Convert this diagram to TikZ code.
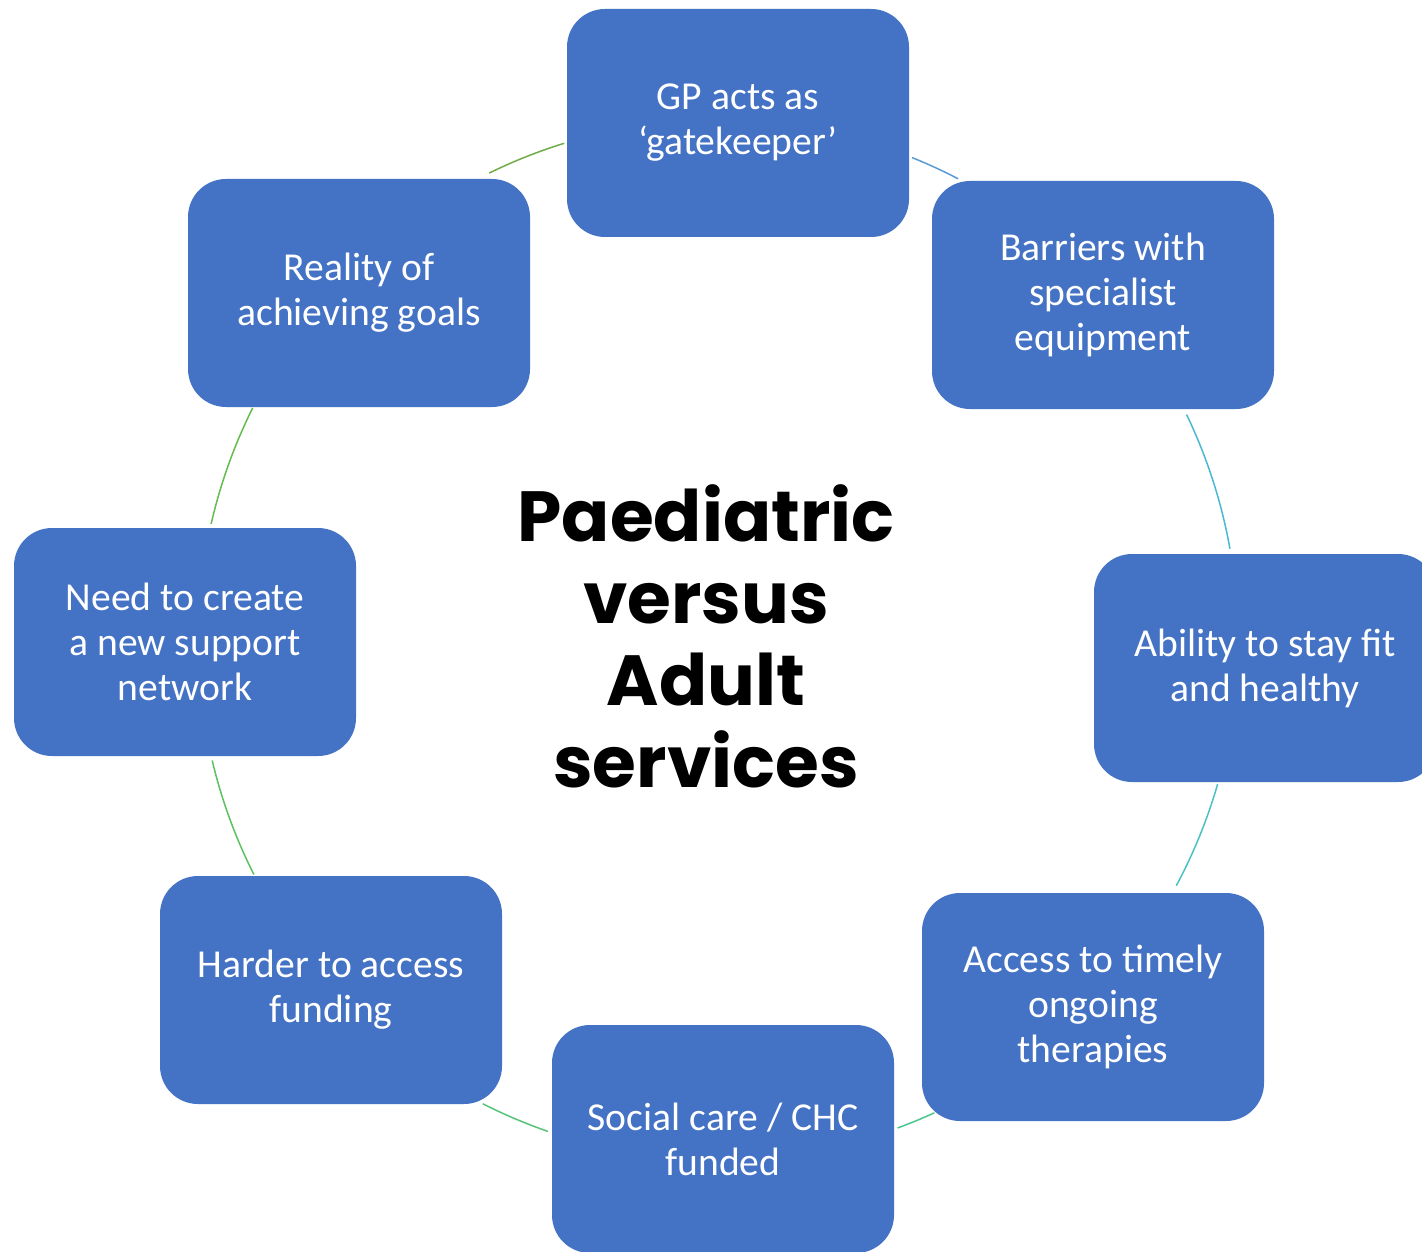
\documentclass[tikz,border=0pt]{standalone}
\usepackage{fontspec}
\setmainfont{Carlito}
\newfontfamily\titlefont{Poppins}
\usepackage{tikz}

\definecolor{boxblue}{HTML}{4472C4}
\definecolor{arcone}{HTML}{5B9BD5}
\definecolor{arctwo}{HTML}{4BB8D2}
\definecolor{arcthree}{HTML}{4CC1C4}
\definecolor{arcfour}{HTML}{4CC690}
\definecolor{arcfive}{HTML}{55C47A}
\definecolor{arcsix}{HTML}{5CC160}
\definecolor{arcseven}{HTML}{64BB4E}
\definecolor{arceight}{HTML}{70AD47}

\tikzset{
  issue/.style={rectangle, rounded corners=19pt, fill=boxblue, text=white,
    minimum width=171pt, minimum height=114pt, align=center,
    font=\fontsize{19.8}{22.5}\selectfont},
  ring/.style={line width=0.75pt}
}

\begin{document}
\begin{tikzpicture}[x=0.5pt,y=0.5pt]
        \useasboundingbox[fill=white] (0,0) rectangle (1422,-1251);
        \coordinate (hub) at (718,-640);

        % ring segments between the boxes
        \begin{scope}[shift={(hub)}]
        \draw[ring, arceight] (107.2:520) arc[start angle=107.2, end angle=116.1, radius=520];
        \draw[ring, arcone] (62.5:520) arc[start angle=62.5, end angle=68.1, radius=520];
        \draw[ring, arctwo] (10.1:520) arc[start angle=10.1, end angle=25.7, radius=520];
        \draw[ring, arcthree] (-28.2:520) arc[start angle=-28.2, end angle=-16.1, radius=520];
        \draw[ring, arcfour] (-69.8:520) arc[start angle=-69.8, end angle=-65.4, radius=520];
        \draw[ring, arcfive] (-116.9:520) arc[start angle=-116.9, end angle=-109.1, radius=520];
        \draw[ring, arcsix] (-166.6:520) arc[start angle=-166.6, end angle=-153.2, radius=520];
        \draw[ring, arcseven] (153.5:520) arc[start angle=153.5, end angle=167.1, radius=520];
        \end{scope}

        \node[issue] (gp) at (738,-123) {GP acts as\\‘gatekeeper’};
        \node[issue] (barriers) at (1103,-295) {Barriers with\\specialist\\equipment};
        \node[issue] (fit) at (1265,-668) {Ability to stay fit\\and healthy};
        \node[issue] (therapies) at (1093,-1007) {Access to timely\\ongoing\\therapies};
        \node[issue] (social) at (723,-1139) {Social care / CHC\\funded};
        \node[issue] (funding) at (331,-990) {Harder to access\\funding};
        \node[issue] (network) at (185,-642) {Need to create\\a new support\\network};
        \node[issue] (goals) at (359,-293) {Reality of\\achieving goals};

        \node[align=center, font=\titlefont\bfseries\fontsize{35.5}{41}\selectfont] (title) at (706,-636)
          {Paediatric\\versus\\Adult\\services};
    \end{tikzpicture}
\end{document}
